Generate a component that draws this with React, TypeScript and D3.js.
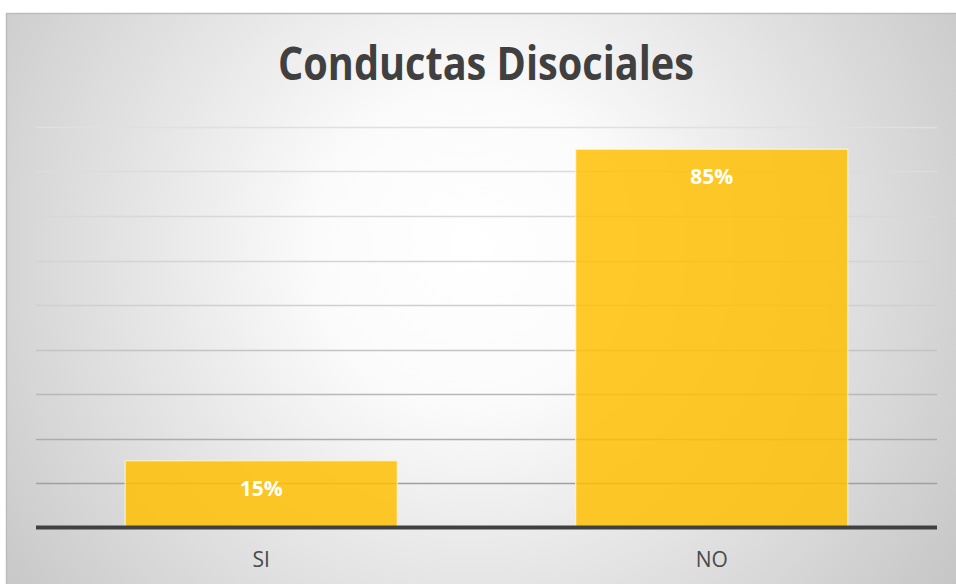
import React from "react";
import * as d3 from "d3";

const categories: string[] = ["SI", "NO"];
const values: number[] = [0.15, 0.85];
const yTicks: number[] = [0, 0.1, 0.2, 0.3, 0.4, 0.5, 0.6, 0.7, 0.8, 0.9];
const title = "Conductas Disociales";

const W = 956;
const H = 584;

export default function App() {
  const x = d3
    .scaleBand<string>()
    .domain(categories)
    .range([36, 937])
    .paddingInner(0.396)
    .paddingOuter(0.198);
  const y = d3.scaleLinear().domain([0, 0.9]).range([527.5, 127]);
  const gridColor = d3.scaleLinear<string>().domain([0.9, 0.5, 0.1]).range(["#e0e0e0", "#d0d0d0", "#a0a0a0"]);
  const fmt = d3.format(".0%");

  return (
    <svg width={W} height={H} style={{ position: "absolute", left: 0, top: 0 }}>
      <defs>
        <radialGradient id="bg" cx="470" cy="250" r="620" gradientUnits="userSpaceOnUse">
          <stop offset="0" stopColor="#ffffff" />
          <stop offset="0.25" stopColor="#fbfbfb" />
          <stop offset="1" stopColor="#c2c2c2" />
        </radialGradient>
      </defs>
      <rect x={0} y={0} width={W} height={H} fill="#ffffff" />
      <rect x={6.5} y={13.5} width={980} height={600} fill="url(#bg)" stroke="#bdbdbd" strokeWidth={1.5} />
      <text
        x={486}
        y={80}
        textAnchor="middle"
        fontFamily="'Open Sans', sans-serif"
        fontWeight={700}
        fontSize={46}
        fill="#404040"
        textLength={416}
        lengthAdjust="spacingAndGlyphs"
      >
        {title}
      </text>
      {yTicks
        .filter((t) => t > 0)
        .map((t) => (
          <line
            key={t}
            x1={36}
            x2={937}
            y1={Math.round(y(t)) + 0.5}
            y2={Math.round(y(t)) + 0.5}
            stroke={gridColor(t)}
            strokeWidth={1.5}
          />
        ))}
      {categories.map((c, i) => (
        <g key={c}>
          <rect
            x={x(c)!}
            y={y(values[i])}
            width={x.bandwidth()}
            height={y(0) - y(values[i])}
            fill="#FFC000"
            fillOpacity={0.84}
            stroke="#fff6d8"
            strokeOpacity={0.8}
            strokeWidth={1.2}
          />
          <text
            x={x(c)! + x.bandwidth() / 2}
            y={y(values[i]) + 35}
            textAnchor="middle"
            fontFamily="'Open Sans', sans-serif"
            fontWeight={700}
            fontSize={21}
            fill="#ffffff"
          >
            {fmt(values[i])}
          </text>
          <text
            x={x(c)! + x.bandwidth() / 2}
            y={567}
            textAnchor="middle"
            fontFamily="'Open Sans', sans-serif"
            fontSize={21}
            fill="#4a4a4a"
          >
            {c}
          </text>
        </g>
      ))}
      <line x1={36} x2={937} y1={y(0)} y2={y(0)} stroke="#404040" strokeWidth={4} />
    </svg>
  );
}
